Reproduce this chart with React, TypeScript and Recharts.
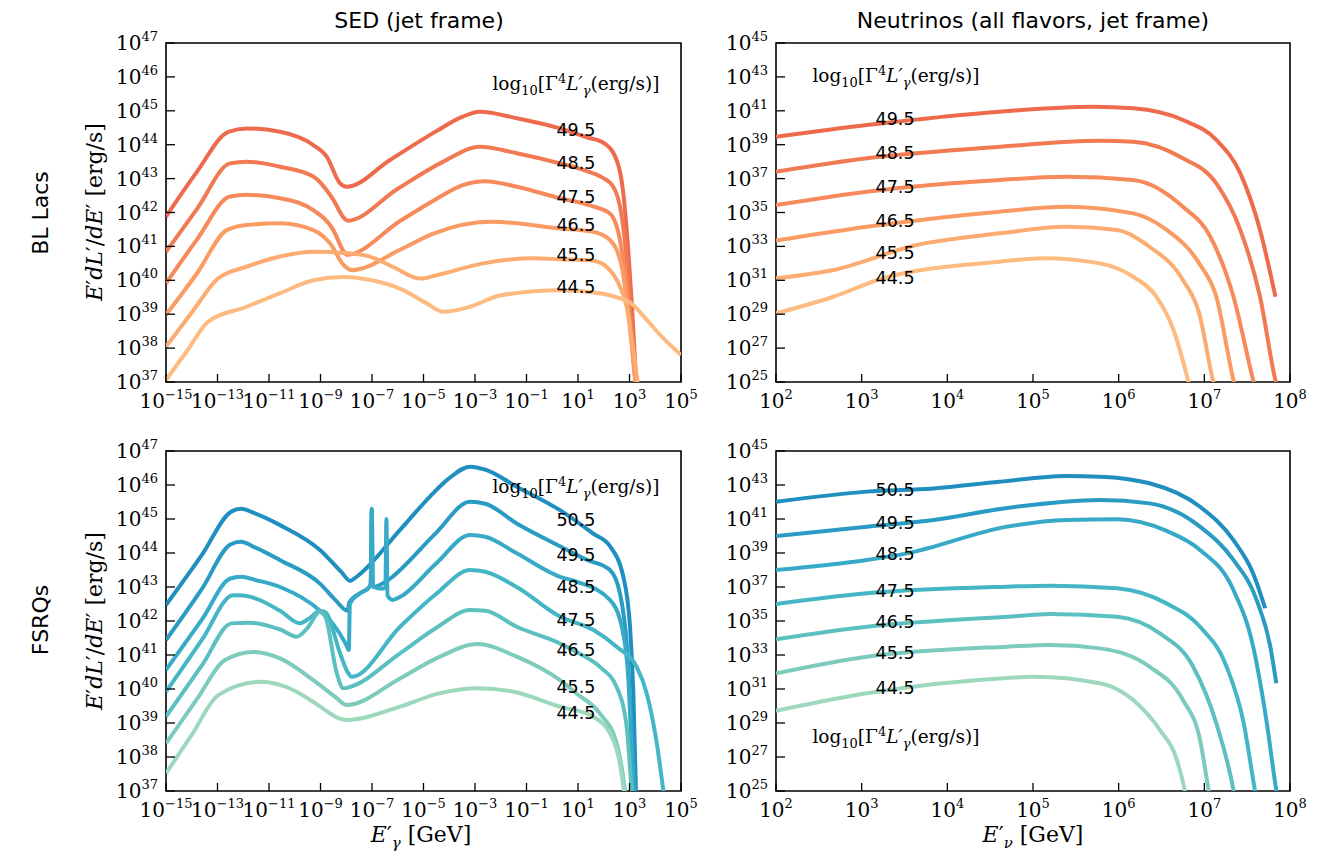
import React from 'react';
import { LineChart, Line, XAxis, YAxis, ReferenceArea, ReferenceDot } from 'recharts';

type Pt = [number, number];

// all values are log10: x = log10(E' / GeV), y = log10(luminosity / (erg/s))

// ---- BL Lacs, SED (jet frame) ----
const blSed495: Pt[] = [[-15, 41.88], [-13.8, 43.2], [-12.58, 44.38], [-11.87, 44.48], [-10.57, 44.38], [-9.28, 43.99], [-8.76, 43.65], [-8.24, 42.86], [-7.98, 42.76], [-6.3, 43.55], [-4.5, 44.4], [-3.5, 44.82], [-2.81, 44.97], [-1.38, 44.78], [0.3, 44.48], [1.34, 44.22], [2.0, 44.05], [2.5, 43.55], [2.76, 42.57], [2.95, 40.89], [3.08, 39.42], [3.2, 37.8], [3.3, 36.5]];
const blSed485: Pt[] = [[-15, 40.84], [-13.8, 42.1], [-12.51, 43.45], [-11.87, 43.5], [-10.57, 43.35], [-9.28, 43.06], [-8.5, 42.37], [-8.1, 41.85], [-7.95, 41.76], [-6.0, 42.7], [-4.23, 43.5], [-2.81, 43.94], [-1.38, 43.75], [0.3, 43.45], [1.34, 43.22], [1.9, 43.05], [2.37, 42.76], [2.7, 41.88], [2.89, 40.6], [3.02, 39.3], [3.15, 37.8], [3.3, 36.5]];
const blSed475: Pt[] = [[-15, 39.91], [-13.8, 41.2], [-12.51, 42.47], [-11.87, 42.52], [-10.57, 42.42], [-9.28, 42.07], [-8.5, 41.48], [-8.1, 40.85], [-7.98, 40.75], [-5.91, 41.75], [-4.5, 42.4], [-3.5, 42.8], [-2.6, 42.92], [-1.38, 42.76], [0.3, 42.42], [1.5, 42.2], [2.24, 41.97], [2.63, 41.19], [2.89, 39.81], [3.05, 38.5], [3.2, 37.2], [3.35, 36.3]];
const blSed465: Pt[] = [[-15, 38.98], [-13.8, 40.2], [-12.64, 41.48], [-11.87, 41.63], [-10.57, 41.68], [-9.28, 41.48], [-8.63, 41.09], [-8.1, 40.45], [-7.79, 40.3], [-5.91, 40.9], [-4.62, 41.38], [-2.42, 41.73], [0.3, 41.53], [1.59, 41.43], [2.24, 41.19], [2.7, 40.4], [2.89, 39.42], [3.1, 38.0], [3.3, 36.5]];
const blSed455: Pt[] = [[-15, 38.04], [-14.0, 39.05], [-12.97, 40.06], [-11.87, 40.4], [-10.57, 40.7], [-9.28, 40.84], [-8.0, 40.8], [-7.08, 40.7], [-6.2, 40.4], [-5.1, 40.05], [-4.5, 40.15], [-2.68, 40.5], [-0.73, 40.65], [0.3, 40.62], [1.59, 40.58], [2.24, 40.3], [2.63, 39.81], [2.89, 39.22], [3.1, 38.2], [3.4, 36.5]];
const blSed445: Pt[] = [[-15, 37.06], [-14.2, 37.9], [-13.36, 38.78], [-11.87, 39.22], [-10.57, 39.62], [-9.28, 40.0], [-8.11, 40.1], [-7.0, 40.0], [-5.79, 39.71], [-4.88, 39.32], [-4.23, 39.07], [-3.19, 39.22], [-2.03, 39.55], [0.3, 39.71], [1.85, 39.62], [2.5, 39.5], [3.1, 39.3], [3.67, 38.83], [4.3, 38.3], [5, 37.8]];

// ---- BL Lacs, neutrinos ----
const blNu495: Pt[] = [[2, 39.47], [3.06, 40.16], [4.61, 40.95], [5.7, 41.24], [6.17, 41.15], [6.75, 40.46], [7.14, 39.28], [7.42, 37.31], [7.65, 33.97], [7.83, 30.03]];
const blNu485: Pt[] = [[2, 37.41], [3.06, 38.2], [4.61, 38.88], [5.78, 39.24], [6.17, 39.18], [6.75, 38.2], [7.14, 36.72], [7.42, 33.97], [7.65, 30.03], [7.83, 25.1], [7.86, 24.5]];
const blNu475: Pt[] = [[2, 35.44], [3.06, 36.23], [4.61, 36.92], [5.39, 37.11], [6.17, 36.92], [6.75, 35.34], [7.07, 33.57], [7.34, 30.03], [7.57, 25.1], [7.6, 24.5]];
const blNu465: Pt[] = [[2, 33.34], [3.06, 34.16], [4.61, 35.05], [5.39, 35.34], [6.17, 34.95], [6.56, 33.97], [6.94, 32.0], [7.14, 30.03], [7.34, 25.1], [7.37, 24.5]];
const blNu455: Pt[] = [[2, 31.12], [2.67, 31.61], [3.64, 33.08], [4.61, 33.77], [5.39, 34.16], [5.98, 33.97], [6.36, 32.98], [6.75, 31.02], [6.94, 29.05], [7.1, 25.1], [7.13, 24.5]];
const blNu445: Pt[] = [[2, 29.05], [2.67, 30.03], [3.25, 31.12], [4.61, 32.1], [5.12, 32.3], [5.78, 32.0], [6.17, 31.21], [6.44, 30.03], [6.64, 28.07], [6.81, 25.1], [6.84, 24.5]];

// ---- FSRQs, SED (jet frame) ----
const fsSed505: Pt[] = [[-15, 42.47], [-13.6, 43.95], [-12.5, 45.2], [-12.1, 45.3], [-11.5, 45.15], [-10.57, 44.82], [-9.02, 44.09], [-8.2, 43.45], [-7.85, 43.18], [-7.6, 43.3], [-5.91, 44.68], [-4.75, 45.66], [-4.0, 46.2], [-3.19, 46.54], [-2.6, 46.45], [-1.38, 45.95], [0.3, 45.26], [1.59, 44.57], [2.24, 44.2], [2.76, 43.3], [3.02, 41.83], [3.15, 39.87], [3.25, 37.03], [3.3, 36.3]];
const fsSed495: Pt[] = [[-15, 41.44], [-13.6, 42.95], [-12.5, 44.25], [-12.1, 44.33], [-11.5, 44.15], [-10.57, 43.79], [-9.02, 43.1], [-8.4, 42.6], [-7.95, 42.3], [-7.88, 42.55], [-7.5, 42.8], [-7.1, 43.0], [-7.05, 43.1], [-7.01, 45.3], [-6.97, 43.1], [-6.93, 43.0], [-6.7, 43.06], [-6.2, 43.3], [-5.91, 43.5], [-4.5, 44.6], [-3.19, 45.51], [-2.6, 45.45], [-1.38, 44.87], [0.3, 44.2], [1.34, 43.8], [2.24, 43.5], [2.63, 42.81], [2.89, 41.34], [3.08, 38.89], [3.2, 37.03], [3.25, 36.3]];
const fsSed485: Pt[] = [[-15, 40.56], [-13.6, 42.05], [-12.5, 43.25], [-12.1, 43.3], [-11.5, 43.2], [-10.57, 43.0], [-9.02, 42.3], [-8.5, 41.9], [-8.0, 41.3], [-7.9, 41.15], [-7.86, 42.5], [-7.5, 42.8], [-7.1, 43.0], [-7.05, 43.1], [-7.01, 45.3], [-6.97, 43.1], [-6.93, 43.0], [-6.6, 42.95], [-6.48, 43.0], [-6.44, 45.0], [-6.4, 42.75], [-6.2, 42.62], [-5.91, 42.71], [-4.5, 43.7], [-3.19, 44.53], [-2.6, 44.48], [-1.38, 43.99], [0.3, 43.3], [0.94, 43.16], [2.24, 42.62], [2.7, 41.83], [2.95, 40.36], [3.15, 37.03], [3.2, 36.3]];
const fsSed475: Pt[] = [[-15, 39.92], [-13.6, 41.45], [-12.39, 42.76], [-12.0, 42.75], [-10.57, 42.3], [-9.8, 41.93], [-9.4, 42.1], [-9.02, 42.3], [-8.8, 42.25], [-8.24, 41.05], [-7.95, 40.5], [-7.79, 40.36], [-5.91, 41.83], [-4.5, 42.8], [-3.19, 43.5], [-2.6, 43.45], [-1.38, 43.0], [0.3, 42.13], [1.59, 41.74], [2.5, 41.24], [3.28, 40.65], [3.67, 39.87], [4.06, 38.4], [4.31, 37.03], [4.4, 36.5]];
const fsSed465: Pt[] = [[-15, 39.19], [-13.6, 40.7], [-12.45, 41.93], [-11.8, 41.95], [-10.57, 41.75], [-9.92, 41.54], [-9.5, 41.8], [-9.02, 42.27], [-8.8, 42.1], [-8.37, 40.47], [-8.11, 40.02], [-7.9, 40.05], [-5.91, 41.05], [-4.5, 41.8], [-3.19, 42.32], [-2.6, 42.3], [-1.38, 41.83], [0.3, 41.34], [0.94, 41.09], [1.85, 40.65], [2.5, 40.06], [2.89, 38.89], [3.08, 37.03], [3.15, 36.3]];
const fsSed455: Pt[] = [[-15, 38.4], [-13.8, 39.7], [-12.71, 40.85], [-11.61, 41.09], [-10.57, 40.9], [-9.28, 40.26], [-8.4, 39.75], [-7.98, 39.53], [-5.91, 40.31], [-4.5, 40.9], [-2.9, 41.32], [-1.38, 40.95], [0.3, 40.26], [0.94, 39.87], [1.85, 39.28], [2.5, 38.4], [2.82, 37.03], [2.9, 36.5]];
const fsSed445: Pt[] = [[-15, 37.52], [-14.0, 38.65], [-12.97, 39.82], [-11.35, 40.21], [-10.0, 39.95], [-9.28, 39.62], [-7.98, 39.09], [-5.91, 39.48], [-4.5, 39.85], [-2.9, 40.02], [-1.5, 39.92], [0.3, 39.48], [1.59, 39.19], [2.37, 38.5], [2.76, 37.13], [2.85, 36.5]];

// ---- FSRQs, neutrinos ----
const fsNu505: Pt[] = [[2, 42.02], [3.06, 42.61], [3.84, 42.8], [4.61, 43.19], [5.39, 43.53], [5.78, 43.49], [6.36, 43.1], [6.95, 41.72], [7.34, 39.76], [7.57, 37.8], [7.71, 35.75]];
const fsNu495: Pt[] = [[2, 40.0], [3.06, 40.55], [3.84, 40.94], [4.7, 41.65], [5.78, 42.12], [6.36, 41.92], [6.95, 40.55], [7.34, 38.59], [7.61, 36.24], [7.77, 33.49], [7.84, 31.34]];
const fsNu485: Pt[] = [[2, 38.0], [3.06, 38.59], [3.53, 38.98], [4.7, 40.55], [5.39, 40.94], [5.98, 40.98], [6.56, 40.3], [6.95, 39.18], [7.34, 36.82], [7.57, 33.49], [7.73, 28.98], [7.84, 25.06], [7.86, 24.5]];
const fsNu475: Pt[] = [[2, 36.0], [3.06, 36.63], [4.7, 37.02], [5.2, 37.08], [5.98, 36.92], [6.56, 36.03], [6.95, 34.66], [7.26, 32.31], [7.46, 28.98], [7.59, 25.06], [7.61, 24.5]];
const fsNu465: Pt[] = [[2, 33.92], [3.06, 34.66], [4.7, 35.25], [5.2, 35.41], [5.98, 35.25], [6.48, 34.27], [6.87, 32.31], [7.14, 28.98], [7.34, 25.06], [7.36, 24.5]];
const fsNu455: Pt[] = [[2, 31.92], [3.06, 32.9], [4.7, 33.49], [5.2, 33.59], [5.78, 33.39], [6.36, 32.31], [6.75, 30.35], [6.95, 28.0], [7.05, 25.06], [7.07, 24.5]];
const fsNu445: Pt[] = [[2, 29.72], [3.06, 30.75], [4.7, 31.65], [5.0, 31.72], [5.78, 31.34], [6.17, 30.35], [6.48, 28.59], [6.68, 26.82], [6.77, 25.06], [6.79, 24.5]];

// series names (log10 Γ^4 L'_γ)
const blNames = ['49.5', '48.5', '47.5', '46.5', '45.5', '44.5'];
const fsNames = ['50.5', '49.5', '48.5', '47.5', '46.5', '45.5', '44.5'];

const orange = ['#ee6a4c', '#f27a52', '#f68a5a', '#f99b63', '#fcac71', '#fdbb82'];
const blue = ['#1f8fc0', '#2a9cc3', '#37aac7', '#45b6c6', '#5dc0c0', '#7ccbbc', '#9dd8bd'];

// where the series names are written (log units)
const blSedLabelX = 0.92;
const blSedLabelY = [44.43, 43.46, 42.46, 41.63, 40.75, 39.8];
const blNuLabelX = 3.39;
const blNuLabelY = [40.52, 38.51, 36.5, 34.5, 32.61, 31.14];
const fsSedLabelX = 0.92;
const fsSedLabelY = [44.97, 43.94, 43.0, 42.03, 41.15, 40.06, 39.29];
const fsNuLabelX = 3.39;
const fsNuLabelY = [42.71, 40.76, 38.94, 36.76, 34.94, 33.12, 31.06];

const sedXTicks = [-15, -13, -11, -9, -7, -5, -3, -1, 1, 3, 5];
const sedYTicks = [37, 38, 39, 40, 41, 42, 43, 44, 45, 46, 47];
const nuXTicks = [2, 3, 4, 5, 6, 7, 8];
const nuYTicks = [25, 27, 29, 31, 33, 35, 37, 39, 41, 43, 45];

const SERIF = 'DejaVu Serif';
const SANS = 'DejaVu Sans';

const expText = (e: number) => (e < 0 ? '\u2212' + Math.abs(e) : String(e));

const XTick = (p: any) => {
  const v = p.payload.value;
  return (
    <g>
      <line x1={p.x} x2={p.x} y1={p.y} y2={p.y - 8} stroke="#000" strokeWidth={1.3} />
      <text x={p.x} y={p.y + 26} textAnchor="middle" fontFamily={SERIF} fontSize={20} fill="#000">
        10<tspan dy={-9} fontSize={13}>{expText(v)}</tspan>
      </text>
    </g>
  );
};

const YTick = (p: any) => {
  const v = p.payload.value;
  return (
    <g>
      <line x1={p.x} x2={p.x + 9} y1={p.y} y2={p.y} stroke="#000" strokeWidth={1.3} />
      <text x={p.x - 8} y={p.y + 7} textAnchor="end" fontFamily={SERIF} fontSize={20} fill="#000">
        10<tspan dy={-9} fontSize={13}>{expText(v)}</tspan>
      </text>
    </g>
  );
};

const Header = ({ cx, cy }: { cx: number; cy: number }) => (
  <text x={cx} y={cy + 5} textAnchor="middle" fontFamily={SERIF} fontSize={18.5} fill="#000">
    log<tspan dy={5} fontSize={13}>10</tspan>
    <tspan dy={-5}>[Γ</tspan>
    <tspan dy={-7} fontSize={13}>4</tspan>
    <tspan dy={7} fontStyle="italic">L′</tspan>
    <tspan dy={5} fontSize={13} fontStyle="italic">γ</tspan>
    <tspan dy={-5}>(erg/s)]</tspan>
  </text>
);

interface PanelProps {
  left: number;
  top: number;
  plotW: number;
  plotH: number;
  xDomain: [number, number];
  yDomain: [number, number];
  xTicks: number[];
  yTicks: number[];
  curves: Pt[][];
  colors: string[];
  names: string[];
  labelX: number;
  labelY: number[];
  header: Pt;
}

function Panel(props: PanelProps) {
  const { left, top, plotW, plotH, xDomain, yDomain, xTicks, yTicks, curves, colors, names, labelX, labelY, header } = props;
  const yAxisW = 110;
  const mTop = 13;
  const mRight = 28;
  const xAxisH = 40;
  return (
    <div style={{ position: 'absolute', left: left - yAxisW, top: top - mTop }}>
      <LineChart
        width={yAxisW + plotW + mRight}
        height={mTop + plotH + xAxisH}
        margin={{ top: mTop, right: mRight, bottom: 0, left: 0 }}
      >
        <XAxis
          type="number"
          dataKey="x"
          domain={xDomain}
          ticks={xTicks}
          interval={0}
          allowDataOverflow
          axisLine={false}
          tickLine={false}
          tickSize={0}
          tickMargin={0}
          height={xAxisH}
          tick={<XTick />}
        />
        <YAxis
          type="number"
          dataKey="y"
          domain={yDomain}
          ticks={yTicks}
          interval={0}
          allowDataOverflow
          axisLine={false}
          tickLine={false}
          tickSize={0}
          tickMargin={0}
          width={yAxisW}
          tick={<YTick />}
        />
        {curves.map((c, i) => (
          <Line
            key={names[i]}
            data={c.map(([x, y]) => ({ x, y }))}
            dataKey="y"
            name={names[i]}
            type="monotone"
            stroke={colors[i]}
            strokeWidth={4}
            strokeLinecap="butt"
            dot={false}
            activeDot={false}
            isAnimationActive={false}
          />
        ))}
        <ReferenceArea
          x1={xDomain[0]}
          x2={xDomain[1]}
          y1={yDomain[0]}
          y2={yDomain[1]}
          fill="none"
          fillOpacity={0}
          stroke="#000"
          strokeWidth={1.6}
        />
        {names.map((n, i) => (
          <ReferenceDot
            key={'lab' + n}
            x={labelX}
            y={labelY[i]}
            r={0}
            shape={(p: any) => (
              <text x={p.cx} y={p.cy} textAnchor="middle" dominantBaseline="central" fontFamily={SANS} fontSize={17.5} fill="#000">
                {n}
              </text>
            )}
          />
        ))}
        <ReferenceDot
          x={header[0]}
          y={header[1]}
          r={0}
          shape={(p: any) => <Header cx={p.cx} cy={p.cy} />}
        />
      </LineChart>
    </div>
  );
}

export default function App() {
  return (
    <div style={{ position: 'absolute', left: 0, top: 0, width: 1319, height: 856, background: '#fff' }}>
      <Panel
        left={166} top={43} plotW={515} plotH={339}
        xDomain={[-15, 5]} yDomain={[37, 47]} xTicks={sedXTicks} yTicks={sedYTicks}
        curves={[blSed495, blSed485, blSed475, blSed465, blSed455, blSed445]}
        colors={orange} names={blNames}
        labelX={blSedLabelX} labelY={blSedLabelY} header={[0.92, 45.76]}
      />
      <Panel
        left={776} top={43} plotW={514} plotH={339}
        xDomain={[2, 8]} yDomain={[25, 45]} xTicks={nuXTicks} yTicks={nuYTicks}
        curves={[blNu495, blNu485, blNu475, blNu465, blNu455, blNu445]}
        colors={orange} names={blNames}
        labelX={blNuLabelX} labelY={blNuLabelY} header={[3.4, 43.0]}
      />
      <Panel
        left={166} top={451} plotW={515} plotH={340}
        xDomain={[-15, 5]} yDomain={[37, 47]} xTicks={sedXTicks} yTicks={sedYTicks}
        curves={[fsSed505, fsSed495, fsSed485, fsSed475, fsSed465, fsSed455, fsSed445]}
        colors={blue} names={fsNames}
        labelX={fsSedLabelX} labelY={fsSedLabelY} header={[0.92, 45.91]}
      />
      <Panel
        left={776} top={451} plotW={514} plotH={340}
        xDomain={[2, 8]} yDomain={[25, 45]} xTicks={nuXTicks} yTicks={nuYTicks}
        curves={[fsNu505, fsNu495, fsNu485, fsNu475, fsNu465, fsNu455, fsNu445]}
        colors={blue} names={fsNames}
        labelX={fsNuLabelX} labelY={fsNuLabelY} header={[3.4, 28.12]}
      />
      <svg width={1319} height={856} style={{ position: 'absolute', left: 0, top: 0, pointerEvents: 'none' }}>
        <text x={419} y={28} textAnchor="middle" fontFamily={SANS} fontSize={22} fill="#000">SED (jet frame)</text>
        <text x={1033} y={28} textAnchor="middle" fontFamily={SANS} fontSize={22} fill="#000">Neutrinos (all flavors, jet frame)</text>
        <text transform="translate(40,213) rotate(-90)" textAnchor="middle" dominantBaseline="central" fontFamily={SANS} fontSize={22} fill="#000">BL Lacs</text>
        <text transform="translate(40,620) rotate(-90)" textAnchor="middle" dominantBaseline="central" fontFamily={SANS} fontSize={22} fill="#000">FSRQs</text>
        {[212, 621].map((cy) => (
          <text key={cy} transform={`translate(94,${cy}) rotate(-90)`} textAnchor="middle" dominantBaseline="central" fontFamily={SERIF} fontSize={22} fill="#000">
            <tspan fontStyle="italic">E</tspan>′<tspan fontStyle="italic">dL</tspan>′/<tspan fontStyle="italic">dE</tspan>′ [erg/s]
          </text>
        ))}
        <text x={421} y={842} textAnchor="middle" fontFamily={SERIF} fontSize={22} fill="#000">
          <tspan fontStyle="italic">E</tspan>′<tspan dy={6} fontSize={15} fontStyle="italic">γ</tspan>
          <tspan dy={-6}> [GeV]</tspan>
        </text>
        <text x={1033} y={842} textAnchor="middle" fontFamily={SERIF} fontSize={22} fill="#000">
          <tspan fontStyle="italic">E</tspan>′<tspan dy={6} fontSize={15} fontStyle="italic">ν</tspan>
          <tspan dy={-6}> [GeV]</tspan>
        </text>
      </svg>
    </div>
  );
}
